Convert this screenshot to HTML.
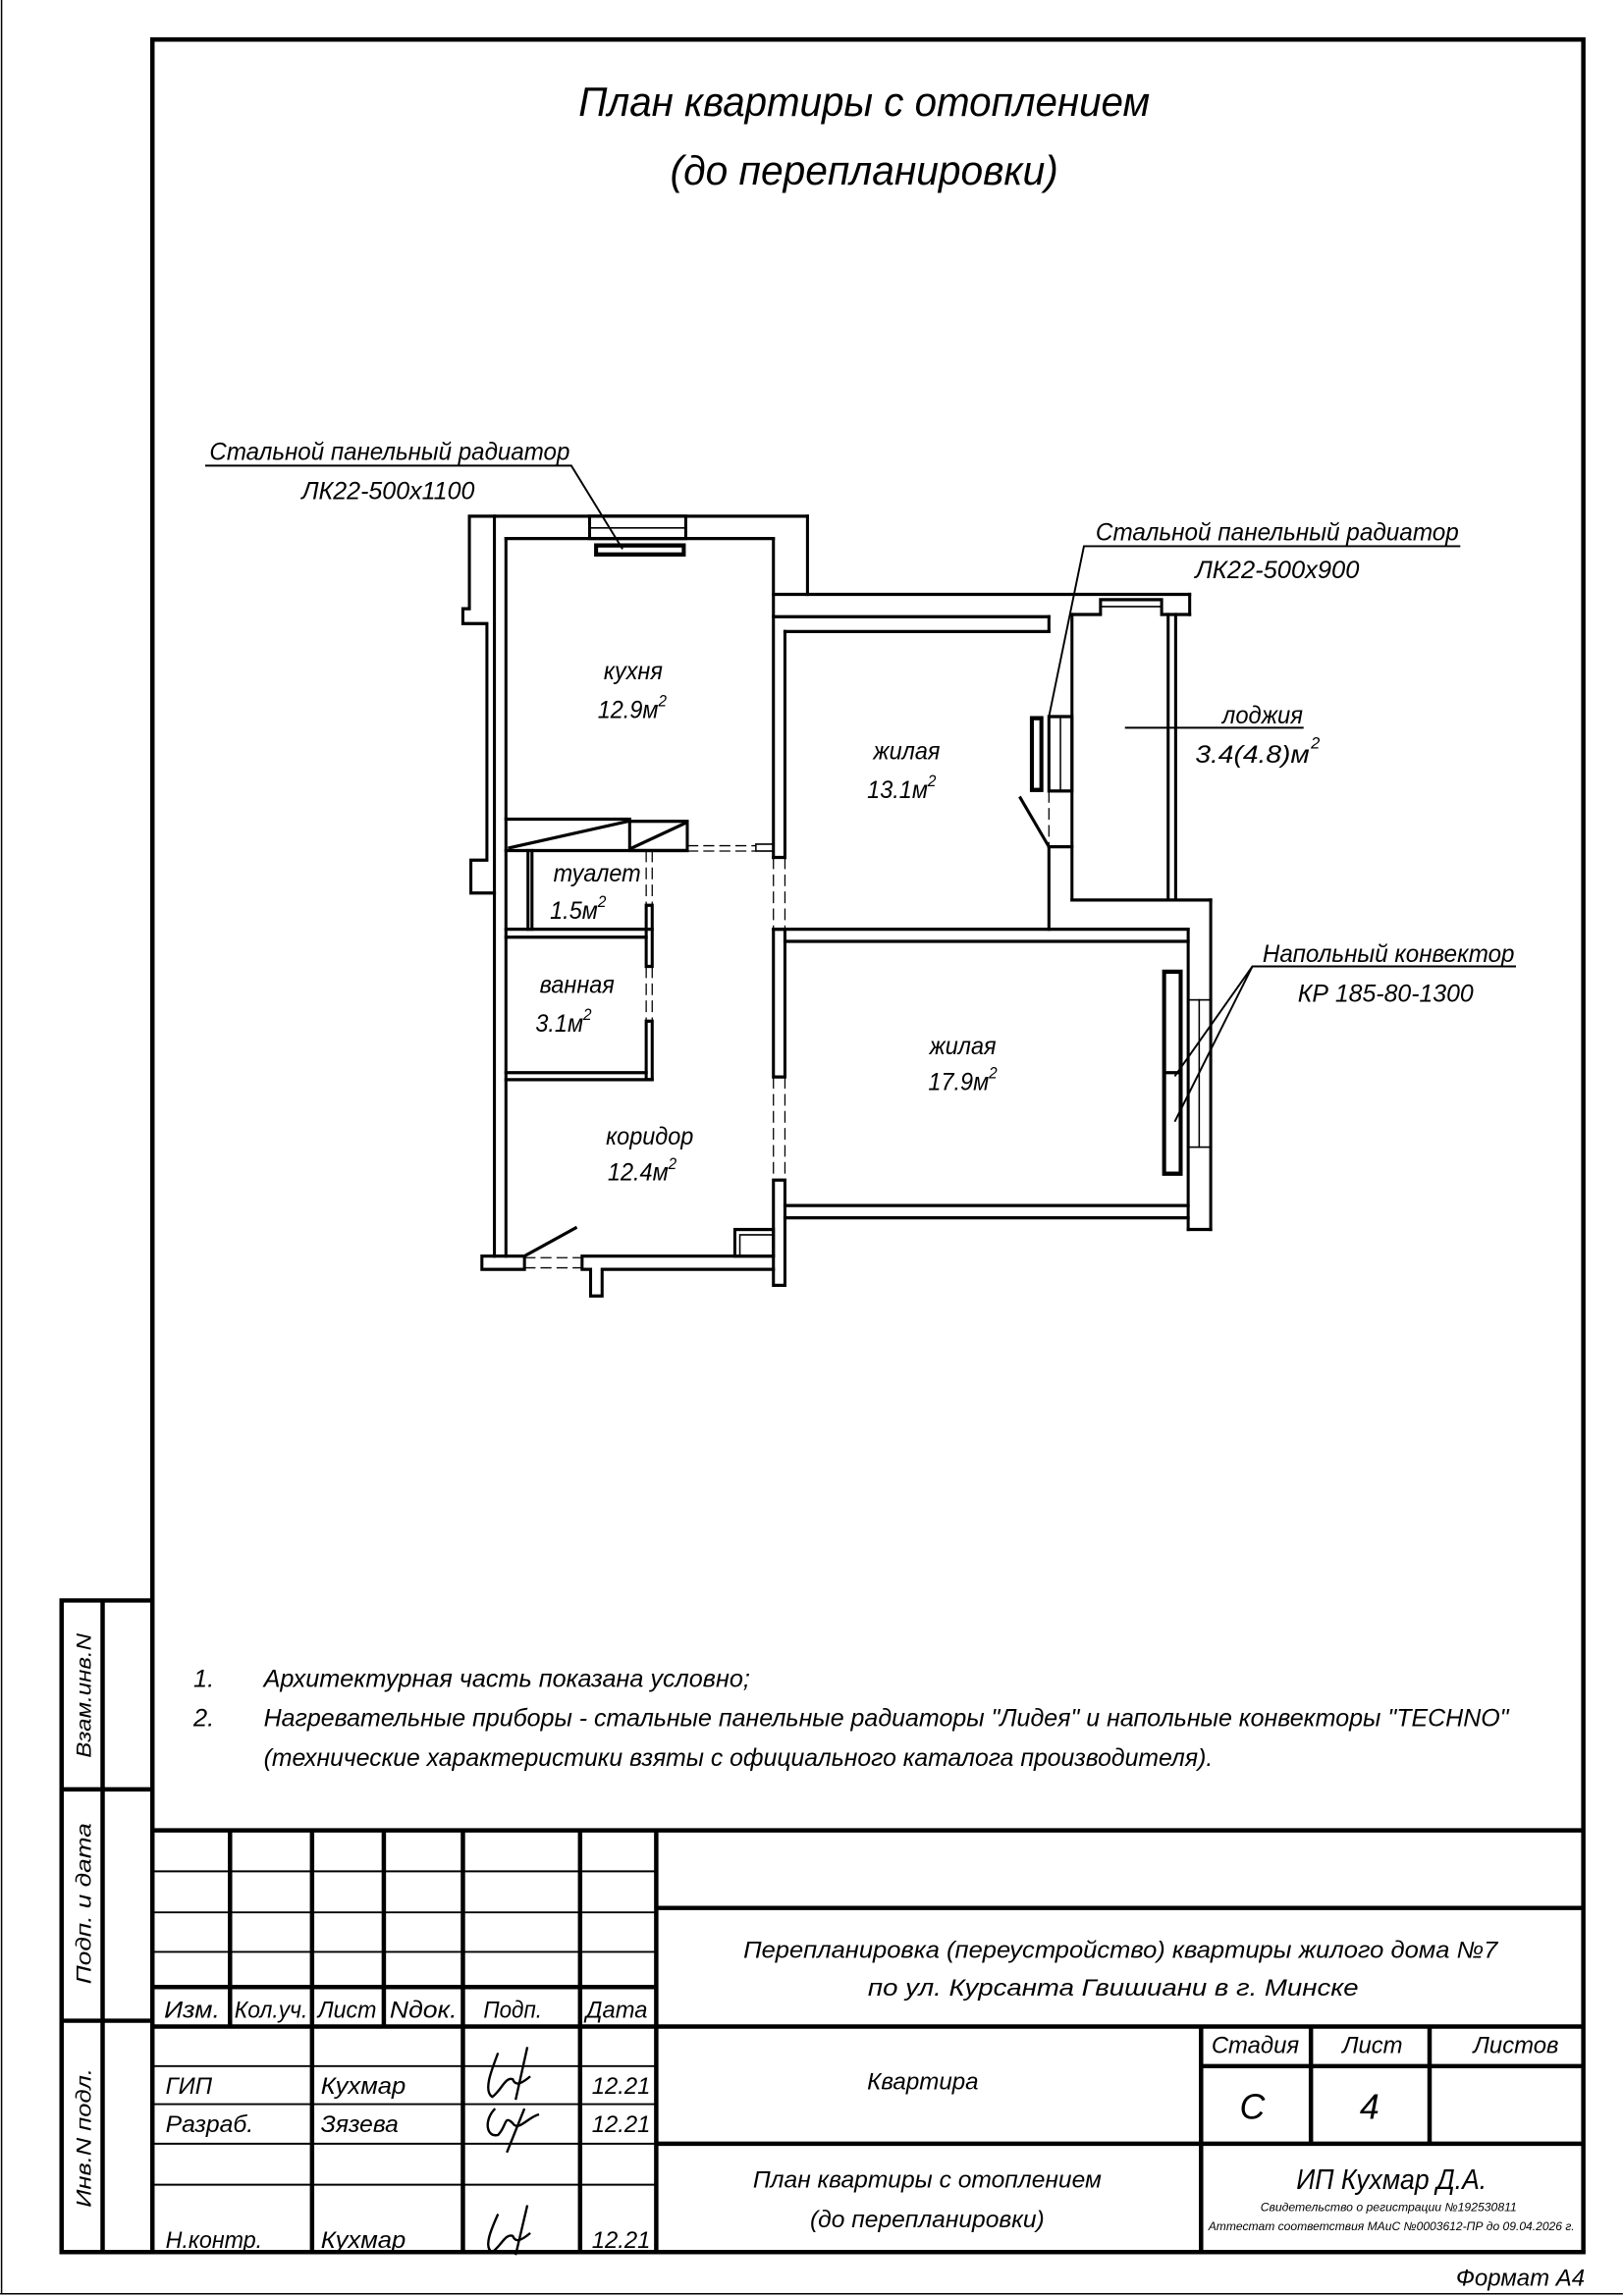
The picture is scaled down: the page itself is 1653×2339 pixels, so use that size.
<!DOCTYPE html>
<html><head><meta charset="utf-8"><style>
html,body{margin:0;padding:0;background:#fff}
svg{display:block}
text{font-family:"Liberation Sans Narrow","Liberation Sans",sans-serif;font-style:italic;fill:#000}
</style></head><body>
<svg width="1653" height="2339" viewBox="0 0 1108 1568" xmlns="http://www.w3.org/2000/svg">
<rect x="0" y="0" width="1108" height="1568" fill="#fff"/>
<line x1="1" y1="0" x2="1" y2="1567" stroke="#000" stroke-width="1"/>
<line x1="0" y1="1566.5" x2="1108" y2="1566.5" stroke="#000" stroke-width="1"/>
<rect x="104" y="27" width="977" height="1511" fill="none" stroke="#000" stroke-width="3"/>
<g stroke="#000" stroke-width="3" fill="none">
<polyline points="104,1093 42,1093 42,1538 104,1538"/>
<line x1="70" y1="1093" x2="70" y2="1538"/>
<line x1="42" y1="1222" x2="104" y2="1222"/>
<line x1="42" y1="1380" x2="104" y2="1380"/>
</g>
<text transform="translate(62,1158) rotate(-90)" font-size="14" text-anchor="middle" textLength="85" lengthAdjust="spacingAndGlyphs" style="font-family:'Liberation Sans',sans-serif">Взам.инв.N</text>
<text transform="translate(62,1300) rotate(-90)" font-size="14" text-anchor="middle" textLength="110" lengthAdjust="spacingAndGlyphs" style="font-family:'Liberation Sans',sans-serif">Подп. и дата</text>
<text transform="translate(62,1460) rotate(-90)" font-size="14" text-anchor="middle" textLength="95" lengthAdjust="spacingAndGlyphs" style="font-family:'Liberation Sans',sans-serif">Инв.N подл.</text>

<text x="590" y="79" font-size="28" text-anchor="middle" textLength="390" lengthAdjust="spacingAndGlyphs">План квартиры с отоплением</text>
<text x="590" y="126" font-size="28" text-anchor="middle" textLength="265" lengthAdjust="spacingAndGlyphs">(до перепланировки)</text>

<g stroke="#000" stroke-width="1.3" fill="none">
<polyline points="140,318 390,318 425,375"/>
<polyline points="997,373 740,373 716,490"/>
<line x1="768" y1="497" x2="890" y2="497"/>
<polyline points="1035,660 855,660 802,735"/>
<line x1="855" y1="660" x2="802" y2="766"/>
</g>
<text x="143" y="314" font-size="17" textLength="246" lengthAdjust="spacingAndGlyphs">Стальной панельный радиатор</text>
<text x="265" y="341" font-size="17" text-anchor="middle" textLength="118" lengthAdjust="spacingAndGlyphs">ЛК22-500х1100</text>
<text x="748" y="369" font-size="17" textLength="248" lengthAdjust="spacingAndGlyphs">Стальной панельный радиатор</text>
<text x="872" y="395" font-size="17" text-anchor="middle" textLength="112" lengthAdjust="spacingAndGlyphs">ЛК22-500х900</text>
<text x="862" y="494" font-size="17" text-anchor="middle" textLength="55" lengthAdjust="spacingAndGlyphs">лоджия</text>
<text x="855" y="521" font-size="17" text-anchor="middle" textLength="78" lengthAdjust="spacingAndGlyphs">3.4(4.8)м</text>
<text x="895" y="511" font-size="11">2</text>
<text x="862" y="657" font-size="17" textLength="172" lengthAdjust="spacingAndGlyphs">Напольный конвектор</text>
<text x="946" y="684" font-size="17" text-anchor="middle" textLength="120" lengthAdjust="spacingAndGlyphs">КР 185-80-1300</text>

<g transform="translate(301.6,335.1) scale(0.342,0.363)">
<g stroke="#000" stroke-width="6" fill="none" stroke-linecap="square">
<polyline points="730,48 55,48 55,222 42,222 42,250 90,250 90,695 58,695 58,757 105,757"/>
<line x1="105" y1="48" x2="105" y2="1440"/>
<line x1="128" y1="90" x2="128" y2="1440"/>
<line x1="128" y1="90" x2="662" y2="90"/>
<rect x="295" y="48" width="192" height="42"/>
<line x1="295" y1="70" x2="487" y2="70" stroke-width="3"/>
<rect x="308" y="103" width="175" height="17" stroke-width="8"/>
<line x1="730" y1="48" x2="730" y2="195"/>
<line x1="662" y1="90" x2="662" y2="690"/>
<line x1="662" y1="195" x2="1493" y2="195"/>
<line x1="1493" y1="195" x2="1493" y2="233"/>
<line x1="662" y1="237" x2="1212" y2="237"/>
<polyline points="1258,233 1315,233 1315,205 1437,205 1437,233 1493,233"/>
<line x1="1315" y1="218" x2="1437" y2="218" stroke-width="3"/>
<line x1="685" y1="265" x2="1212" y2="265"/>
<line x1="685" y1="265" x2="685" y2="690"/>
<line x1="662" y1="690" x2="685" y2="690"/>
<line x1="1212" y1="237" x2="1212" y2="265"/>
<line x1="1212" y1="670" x2="1212" y2="825"/>
<line x1="1258" y1="233" x2="1258" y2="770"/>
<rect x="1212" y="425" width="46" height="140"/>
<line x1="1235" y1="425" x2="1235" y2="565" stroke-width="3"/>
<rect x="1178" y="428" width="19" height="135" stroke-width="8"/>
<line x1="1212" y1="670" x2="1258" y2="670"/>
<line x1="1155" y1="578" x2="1212" y2="670"/>
<line x1="1450" y1="233" x2="1450" y2="770"/>
<line x1="1465" y1="233" x2="1465" y2="770"/>
<line x1="1258" y1="770" x2="1535" y2="770"/>
<line x1="1535" y1="770" x2="1535" y2="1390"/>
<line x1="662" y1="825" x2="1490" y2="825"/>
<line x1="685" y1="848" x2="1490" y2="848"/>
<line x1="1490" y1="825" x2="1490" y2="1390"/>
<line x1="1490" y1="1390" x2="1535" y2="1390"/>
<rect x="1490" y="958" width="45" height="277" stroke-width="3"/>
<line x1="1512" y1="958" x2="1512" y2="1235" stroke-width="3"/>
<rect x="1442" y="905" width="33" height="380" stroke-width="8"/>
<line x1="1442" y1="1095" x2="1475" y2="1095" stroke-width="6"/>
<rect x="662" y="825" width="23" height="278"/>
<rect x="662" y="1297" width="23" height="198"/>
<line x1="685" y1="1345" x2="1490" y2="1345"/>
<line x1="685" y1="1368" x2="1490" y2="1368"/>
<line x1="128" y1="618" x2="375" y2="618"/>
<rect x="375" y="622" width="115" height="55"/>
<line x1="128" y1="677" x2="490" y2="677"/>
<line x1="135" y1="672" x2="372" y2="622"/>
<line x1="380" y1="672" x2="487" y2="625"/>
<line x1="172" y1="677" x2="172" y2="825"/>
<line x1="180" y1="677" x2="180" y2="825"/>
<line x1="128" y1="825" x2="420" y2="825"/>
<line x1="128" y1="840" x2="408" y2="840"/>
<rect x="408" y="780" width="12" height="115"/>
<rect x="408" y="998" width="12" height="110"/>
<line x1="128" y1="1095" x2="408" y2="1095"/>
<line x1="128" y1="1108" x2="420" y2="1108"/>
<rect x="627" y="665" width="35" height="13" stroke-width="3"/>
<polyline points="662,1440 280,1440 280,1465 297,1465 297,1515 320,1515 320,1465 662,1465"/>
<rect x="80" y="1440" width="85" height="25"/>
<rect x="585" y="1390" width="77" height="50"/>
<rect x="595" y="1400" width="67" height="40" stroke-width="3"/>
<line x1="165" y1="1440" x2="267" y2="1387"/>
</g>
<g stroke="#000" stroke-width="2.5" fill="none" stroke-dasharray="22,10">
<line x1="490" y1="668" x2="627" y2="668"/>
<line x1="490" y1="678" x2="627" y2="678"/>
<line x1="408" y1="677" x2="408" y2="780"/>
<line x1="420" y1="677" x2="420" y2="780"/>
<line x1="408" y1="895" x2="408" y2="998"/>
<line x1="420" y1="895" x2="420" y2="998"/>
<line x1="662" y1="690" x2="662" y2="825"/>
<line x1="685" y1="690" x2="685" y2="825"/>
<line x1="662" y1="1103" x2="662" y2="1297"/>
<line x1="685" y1="1103" x2="685" y2="1297"/>
<line x1="1212" y1="565" x2="1212" y2="670"/>
<line x1="1258" y1="565" x2="1258" y2="670"/>
<line x1="165" y1="1443" x2="280" y2="1443"/>
<line x1="165" y1="1462" x2="280" y2="1462"/>
</g>
<g font-size="46" text-anchor="middle">
<text x="382" y="355">кухня</text><text x="380" y="428">12.9м<tspan dy="-22" font-size="30">2</tspan></text>
<text x="928" y="505">жилая</text><text x="918" y="578">13.1м<tspan dy="-22" font-size="30">2</tspan></text>
<text x="310" y="735">туалет</text><text x="272" y="805">1.5м<tspan dy="-22" font-size="30">2</tspan></text>
<text x="270" y="945">ванная</text><text x="243" y="1018">3.1м<tspan dy="-22" font-size="30">2</tspan></text>
<text x="1040" y="1060">жилая</text><text x="1040" y="1128">17.9м<tspan dy="-22" font-size="30">2</tspan></text>
<text x="415" y="1230">коридор</text><text x="400" y="1298">12.4м<tspan dy="-22" font-size="30">2</tspan></text>
</g>
</g>

<g font-size="17">
<text x="132" y="1152">1.</text>
<text x="180" y="1152" textLength="332" lengthAdjust="spacingAndGlyphs">Архитектурная часть показана условно;</text>
<text x="132" y="1179">2.</text>
<text x="180" y="1179" textLength="850" lengthAdjust="spacingAndGlyphs">Нагревательные приборы - стальные панельные радиаторы "Лидея" и напольные конвекторы "TECHNO"</text>
<text x="180" y="1206" textLength="648" lengthAdjust="spacingAndGlyphs">(технические характеристики взяты с официального каталога производителя).</text>
</g>

<g stroke="#000" fill="none">
<line x1="104" y1="1250" x2="1081" y2="1250" stroke-width="3"/>
<g stroke-width="3">
<line x1="157" y1="1250" x2="157" y2="1384"/>
<line x1="213" y1="1250" x2="213" y2="1538"/>
<line x1="262" y1="1250" x2="262" y2="1384"/>
<line x1="316" y1="1250" x2="316" y2="1538"/>
<line x1="396" y1="1250" x2="396" y2="1538"/>
<line x1="448" y1="1250" x2="448" y2="1538"/>
<line x1="104" y1="1357" x2="448" y2="1357"/>
<line x1="104" y1="1384" x2="1081" y2="1384"/>
<line x1="448" y1="1303" x2="1081" y2="1303"/>
<line x1="448" y1="1464" x2="1081" y2="1464"/>
<line x1="820" y1="1384" x2="820" y2="1538"/>
<line x1="895" y1="1384" x2="895" y2="1464"/>
<line x1="976" y1="1384" x2="976" y2="1464"/>
<line x1="820" y1="1411" x2="1081" y2="1411"/>
</g>
<g stroke-width="1.3">
<line x1="104" y1="1278" x2="448" y2="1278"/>
<line x1="104" y1="1306" x2="448" y2="1306"/>
<line x1="104" y1="1333" x2="448" y2="1333"/>
<line x1="104" y1="1411" x2="448" y2="1411"/>
<line x1="104" y1="1437" x2="448" y2="1437"/>
<line x1="104" y1="1464" x2="448" y2="1464"/>
<line x1="104" y1="1492" x2="448" y2="1492"/>
</g>
</g>
<g font-size="16">
<text x="112" y="1378" textLength="38" lengthAdjust="spacingAndGlyphs">Изм.</text>
<text x="160" y="1378" textLength="50" lengthAdjust="spacingAndGlyphs">Кол.уч.</text>
<text x="217" y="1378" textLength="40" lengthAdjust="spacingAndGlyphs">Лист</text>
<text x="266" y="1378" textLength="46" lengthAdjust="spacingAndGlyphs">Nдок.</text>
<text x="330" y="1378" textLength="40" lengthAdjust="spacingAndGlyphs">Подп.</text>
<text x="400" y="1378" textLength="42" lengthAdjust="spacingAndGlyphs">Дата</text>
<text x="113" y="1430">ГИП</text>
<text x="219" y="1430" textLength="58" lengthAdjust="spacingAndGlyphs">Кухмар</text>
<text x="404" y="1430">12.21</text>
<text x="113" y="1456" textLength="60" lengthAdjust="spacingAndGlyphs">Разраб.</text>
<text x="219" y="1456" textLength="53" lengthAdjust="spacingAndGlyphs">Зязева</text>
<text x="404" y="1456">12.21</text>
<text x="113" y="1535" textLength="66" lengthAdjust="spacingAndGlyphs">Н.контр.</text>
<text x="219" y="1535" textLength="58" lengthAdjust="spacingAndGlyphs">Кухмар</text>
<text x="404" y="1535">12.21</text>
<text x="765" y="1337" text-anchor="middle" textLength="515" lengthAdjust="spacingAndGlyphs">Перепланировка (переустройство) квартиры жилого дома №7</text>
<text x="760" y="1363" text-anchor="middle" textLength="335" lengthAdjust="spacingAndGlyphs">по ул. Курсанта Гвишиани в г. Минске</text>
<text x="857" y="1402" text-anchor="middle">Стадия</text>
<text x="937" y="1402" text-anchor="middle">Лист</text>
<text x="1035" y="1402" text-anchor="middle">Листов</text>
<text x="630" y="1427" text-anchor="middle" textLength="76" lengthAdjust="spacingAndGlyphs">Квартира</text>
<text x="855" y="1447" text-anchor="middle" font-size="24">С</text>
<text x="935" y="1447" text-anchor="middle" font-size="24">4</text>
<text x="633" y="1494" text-anchor="middle" textLength="238" lengthAdjust="spacingAndGlyphs">План квартиры с отоплением</text>
<text x="633" y="1521" text-anchor="middle" textLength="160" lengthAdjust="spacingAndGlyphs">(до перепланировки)</text>
<text x="950" y="1495" text-anchor="middle" font-size="19" textLength="130" lengthAdjust="spacingAndGlyphs">ИП Кухмар Д.А.</text>
<text x="948" y="1510" text-anchor="middle" font-size="8" textLength="175" lengthAdjust="spacingAndGlyphs">Свидетельство о регистрации №192530811</text>
<text x="950" y="1523" text-anchor="middle" font-size="8" textLength="250" lengthAdjust="spacingAndGlyphs">Аттестат соответствия МАиС №0003612-ПР до 09.04.2026 г.</text>
<text x="1082" y="1561" text-anchor="end" textLength="88" lengthAdjust="spacingAndGlyphs">Формат А4</text>
</g>
<g stroke="#000" stroke-width="1.6" fill="none">
<path d="M340,1402 C335,1415 330,1428 336,1432 C342,1428 345,1418 350,1420 C352,1425 356,1423 362,1418 M360,1398 L352,1434"/>
<path d="M338,1440 C330,1448 332,1460 340,1458 C346,1452 344,1444 350,1450 C354,1456 360,1446 368,1444 M358,1440 L346,1470"/>
<path d="M340,1512 C335,1523 330,1535 336,1538 C342,1534 345,1525 350,1527 C352,1532 356,1530 362,1525 M360,1506 L352,1540"/>
</g>
</svg>
</body></html>
